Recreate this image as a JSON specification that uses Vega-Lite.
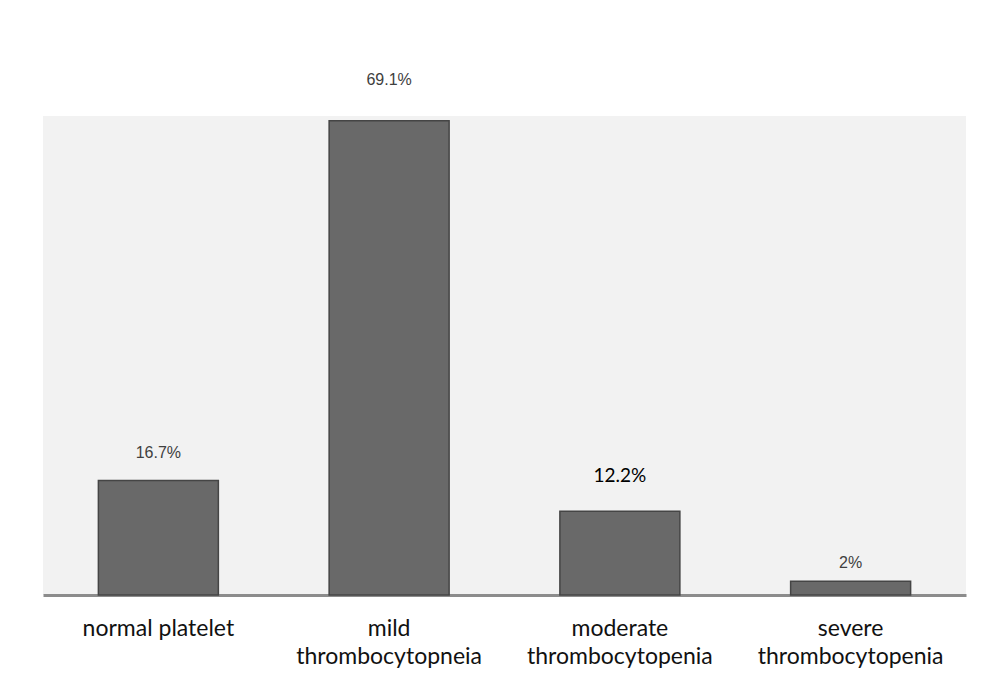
{
  "$schema": "https://vega.github.io/schema/vega-lite/v6.json",
  "autosize": {"type": "none"},
  "padding": {"left": 43, "top": 116, "right": 28, "bottom": 101},
  "width": 923,
  "height": 479,
  "background": "#ffffff",
  "config": {"view": {"fill": "#f2f2f2", "stroke": null}},
  "data": {"values": [
    {"category": "normal platelet", "percent": 16.7, "label": "16.7%"},
    {"category": "mild thrombocytopneia", "percent": 69.1, "label": "69.1%"},
    {"category": "moderate thrombocytopenia", "percent": 12.2, "label": "12.2%"},
    {"category": "severe thrombocytopenia", "percent": 2, "label": "2%"}
  ]},
  "encoding": {
    "x": {"field": "category", "type": "nominal", "sort": null,
      "scale": {"paddingInner": 0.48, "paddingOuter": 0.24},
      "axis": {"title": null, "labelAngle": 0, "ticks": false,
        "domainColor": "#8c8c8c", "domainWidth": 3,
        "labelFont": "Lato", "labelFontSize": 23, "labelColor": "#111111",
        "labelPadding": 22, "labelLineHeight": 28, "labelLimit": 300,
        "labelExpr": "datum.label == 'normal platelet' ? datum.label : split(datum.label, ' ')"}},
    "y": {"field": "percent", "type": "quantitative",
      "scale": {"domain": [0, 69.8], "nice": false, "zero": true},
      "axis": null}
  },
  "layer": [
    {"mark": {"type": "bar", "fill": "#696969", "stroke": "#454545", "strokeWidth": 1.5}},
    {"transform": [{"filter": "datum.category == 'normal platelet'"}],
     "mark": {"type": "text", "font": "Liberation Sans", "fontSize": 16, "color": "#404040", "baseline": "middle", "dy": -27},
     "encoding": {"text": {"field": "label"}}},
    {"transform": [{"filter": "datum.category == 'severe thrombocytopenia'"}],
     "mark": {"type": "text", "font": "Liberation Sans", "fontSize": 16, "color": "#404040", "baseline": "middle", "dy": -18},
     "encoding": {"text": {"field": "label"}}},
    {"transform": [{"filter": "datum.category == 'mild thrombocytopneia'"}],
     "mark": {"type": "text", "font": "Liberation Sans", "fontSize": 16, "color": "#404040", "baseline": "middle", "dy": -41},
     "encoding": {"text": {"field": "label"}}},
    {"transform": [{"filter": "datum.category == 'moderate thrombocytopenia'"}],
     "mark": {"type": "text", "font": "Lato", "fontSize": 19, "color": "#000000", "baseline": "middle", "dy": -35},
     "encoding": {"text": {"field": "label"}}}
  ]
}
